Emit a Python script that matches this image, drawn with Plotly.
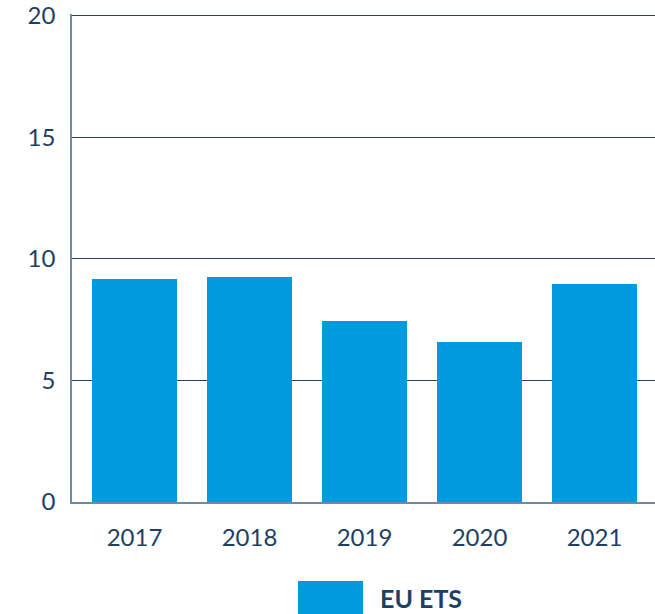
import plotly.graph_objects as go

years = ['2017', '2018', '2019', '2020', '2021']
eu_ets = [9.18, 9.26, 7.45, 6.58, 8.97]
y_ticks = [0, 5, 10, 15, 20]

NAVY = '#1d3f66'
BLUE = '#009bde'

FIG_W, FIG_H = 655, 614
LEFT, TOP, BOTTOM = 72, 14, 112
PLOT_W = FIG_W - LEFT
PLOT_H = FIG_H - TOP - BOTTOM


def py(page_y):
    # pixel row -> paper y coordinate
    return (FIG_H - BOTTOM - page_y) / PLOT_H


def px_(page_x):
    return (page_x - LEFT) / PLOT_W


fig = go.Figure()
fig.add_trace(go.Bar(x=list(range(len(years))), y=eu_ets, name='EU ETS',
                     marker={'color': BLUE, 'line': {'width': 0}},
                     width=0.739, showlegend=False))

fig.update_layout(
    width=FIG_W, height=FIG_H,
    margin={'l': LEFT, 'r': 0, 't': TOP, 'b': BOTTOM},
    plot_bgcolor='white', paper_bgcolor='white',
    font={'family': 'Lato, sans-serif', 'color': NAVY},
    xaxis={'range': [-0.5435, 4.526], 'tickvals': list(range(len(years))),
           'ticktext': years, 'showgrid': False, 'ticks': '',
           'tickfont': {'size': 24}, 'showline': True, 'linecolor': '#6f8aa6',
           'linewidth': 1.5, 'zeroline': False, 'ticklabelstandoff': 13},
    yaxis={'range': [0, 20.08], 'tickvals': y_ticks, 'showgrid': True,
           'gridcolor': '#23446b', 'gridwidth': 1, 'zeroline': False,
           'showline': True, 'linecolor': '#6f8aa6', 'linewidth': 1.5,
           'tickfont': {'size': 24}, 'ticks': '', 'ticklabelstandoff': 10,
           'ticklabeloverflow': 'allow'},
    shapes=[{'type': 'rect', 'xref': 'paper', 'yref': 'paper',
             'x0': px_(298), 'x1': px_(363),
             'y0': py(581), 'y1': py(614),
             'fillcolor': BLUE, 'line': {'width': 0}}],
    annotations=[{'text': '<b>EU ETS</b>', 'xref': 'paper', 'yref': 'paper',
                  'x': px_(378), 'y': py(598),
                  'xanchor': 'left', 'yanchor': 'middle', 'showarrow': False,
                  'font': {'size': 25, 'color': NAVY}}],
)

# drop the default body margin so the figure fills the window exactly
fig.write_html('out.html',
               config={'displayModeBar': False},
               post_script="document.body.style.margin='0';"
                           "document.body.style.overflow='hidden';")
